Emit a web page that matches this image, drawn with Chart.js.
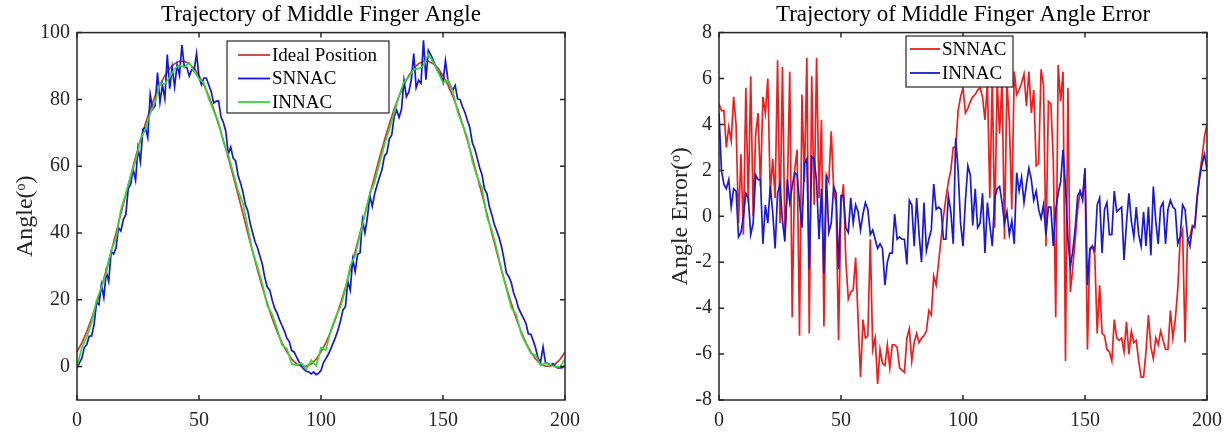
<!DOCTYPE html>
<html>
<head>
<meta charset="utf-8">
<title>Trajectory of Middle Finger Angle</title>
<script src="https://cdn.jsdelivr.net/npm/chart.js@4.4.1/dist/chart.umd.min.js"></script>
<style>
  html, body { margin: 0; padding: 0; background: #fff; }
  #wrap { position: relative; width: 1231px; height: 435px; }
  canvas { position: absolute; top: 0; }
  #angleChart { left: 0; }
  #errorChart { left: 615px; }
</style>
</head>
<body>
<div id="wrap">
  <canvas id="angleChart" width="615" height="435"></canvas>
  <canvas id="errorChart" width="616" height="435"></canvas>
</div>
<script>
// sample index (time step) 0..200 and every second step
const steps = Array.from({ length: 201 }, (_, i) => i);
const evenSteps = Array.from({ length: 101 }, (_, i) => i * 2);

// Left plot: angle trajectories (degrees)
const idealAngle = [ // every 2nd step
  4.4, 7.1, 10.5, 14.4, 18.9, 23.7, 28.9, 34.4, 40.0, 45.8,
  51.5, 57.1, 62.6, 67.8, 72.6, 77.1, 81.0, 84.4, 87.1, 89.3,
  90.7, 91.4, 91.4, 90.7, 89.3, 87.1, 84.4, 81.0, 77.1, 72.6,
  67.8, 62.6, 57.1, 51.5, 45.8, 40.0, 34.4, 28.9, 23.7, 18.9,
  14.4, 10.5, 7.1, 4.4, 2.2, 0.8, 0.1, 0.1, 0.8, 2.2,
  4.4, 7.1, 10.5, 14.4, 18.9, 23.7, 28.9, 34.4, 40.0, 45.8,
  51.5, 57.1, 62.6, 67.8, 72.6, 77.1, 81.0, 84.4, 87.1, 89.3,
  90.7, 91.4, 91.4, 90.7, 89.3, 87.1, 84.4, 81.0, 77.1, 72.6,
  67.8, 62.6, 57.1, 51.5, 45.8, 40.0, 34.4, 28.9, 23.7, 18.9,
  14.4, 10.5, 7.1, 4.4, 2.2, 0.8, 0.1, 0.1, 0.8, 2.2,
  4.4
];
const snnacAngle = [ // every step
  -0.5, 1.1, 2.5, 5.7, 6.6, 9.1, 9.2, 12.6, 19.2, 18.5,
  24.5, 20.7, 28.3, 25.5, 34.4, 33.7, 35.5, 41.6, 40.6, 44.1,
  45.5, 53.3, 54.6, 59.1, 55.8, 65.5, 61.3, 71.1, 71.6, 68.6,
  81.5, 77.1, 78.1, 88.0, 79.1, 84.3, 80.2, 93.4, 83.2, 89.6,
  83.8, 90.3, 87.2, 96.3, 89.6, 89.6, 87.0, 88.9, 88.8, 93.7,
  86.6, 84.4, 86.4, 86.4, 84.3, 82.3, 78.9, 79.4, 79.6, 74.8,
  73.1, 70.4, 63.6, 65.7, 62.4, 61.6, 57.3, 55.0, 52.3, 48.5,
  46.6, 42.8, 40.0, 37.3, 35.5, 33.0, 30.5, 26.5, 23.8, 22.9,
  19.9, 17.5, 16.0, 14.0, 12.3, 10.7, 8.5, 7.5, 4.8, 4.4,
  2.8, 1.4, 0.1, -0.8, -1.4, -1.6, -2.2, -1.6, -2.4, -2.0,
  -1.2, 1.2, 2.4, 3.7, 5.3, 7.1, 8.9, 11.0, 13.7, 17.0,
  17.9, 25.5, 22.9, 32.1, 28.5, 33.6, 34.0, 43.9, 40.0, 44.5,
  51.2, 48.0, 51.8, 54.4, 56.8, 59.0, 63.0, 64.0, 68.1, 69.4,
  74.9, 76.8, 74.6, 77.1, 85.7, 80.8, 82.2, 85.8, 93.7, 83.5,
  85.7, 84.8, 97.7, 85.9, 94.7, 93.3, 91.7, 89.8, 88.2, 87.5,
  85.1, 91.6, 85.9, 84.1, 82.7, 84.2, 80.1, 80.0, 77.8, 76.1,
  73.7, 71.5, 67.1, 65.2, 62.5, 59.6, 57.4, 53.2, 51.8, 47.9,
  45.5, 42.6, 40.7, 38.6, 35.9, 32.2, 28.0, 26.9, 25.1, 21.9,
  20.0, 17.4, 15.9, 14.5, 12.9, 9.8, 9.7, 7.7, 5.4, 2.4,
  1.4, 5.9, 1.1, 0.9, 0.5, 0.9, 0.0, -0.4, -0.4, -0.3,
  0.4
];
const innacAngle = [ // every 2nd step
  -0.1, 5.7, 8.9, 13.2, 19.8, 23.7, 28.1, 34.7, 38.4, 47.0,
  51.8, 56.9, 61.6, 68.0, 71.0, 75.8, 79.2, 84.9, 84.6, 86.7,
  89.2, 90.2, 89.6, 91.0, 88.3, 86.2, 84.9, 80.2, 76.6, 73.2,
  67.2, 63.4, 58.1, 52.7, 48.8, 41.6, 34.3, 29.8, 24.7, 18.2,
  15.7, 11.3, 6.5, 5.4, 0.8, 0.4, 1.1, -0.8, 2.0, 0.2,
  5.7, 4.9, 10.9, 14.9, 17.9, 23.1, 30.2, 33.2, 39.4, 45.6,
  51.7, 55.2, 60.9, 66.4, 71.0, 76.0, 81.1, 85.2, 86.7, 89.0,
  89.2, 90.1, 93.6, 91.2, 88.2, 85.0, 85.8, 82.5, 76.3, 72.3,
  68.6, 61.5, 56.8, 53.4, 44.8, 40.9, 35.2, 28.7, 23.3, 17.6,
  15.6, 9.9, 6.8, 4.0, 3.4, 0.3, 1.0, 0.6, -0.1, -0.1,
  2.4
];

// Right plot: angle errors (degrees), every step
const snnacError = [
  4.9, 4.6, 4.6, 3.0, 3.9, 3.3, 5.2, 4.0, -0.3, 2.7,
  -0.8, 5.6, 0.6, 6.1, 0.0, 3.5, 4.5, 1.3, 5.2, 4.5,
  6.0, 1.0, 2.5, 0.8, 6.8, -0.3, 6.5, -0.8, 1.0, 6.3,
  -4.4, 2.0, 2.9, -5.2, 5.3, 1.5, 6.9, -5.1, 6.1, 0.5,
  6.9, 0.8, 4.2, -4.8, 1.8, 1.5, 3.7, 1.2, 0.5, -5.4,
  0.5, 1.4, -2.0, -3.6, -3.3, -3.2, -1.8, -4.5, -7.0, -4.5,
  -5.3, -5.2, -1.0, -5.8, -5.3, -7.3, -5.8, -6.4, -6.5, -5.6,
  -6.6, -5.6, -5.6, -5.7, -6.6, -6.7, -6.8, -5.3, -4.9, -6.3,
  -5.5, -5.1, -5.5, -5.3, -5.2, -5.0, -4.1, -4.3, -2.6, -3.0,
  -2.0, -1.0, 0.0, 0.8, 1.5, 2.0, 3.0, 3.0, 4.6, 5.2,
  5.6, 4.5, 4.7, 5.0, 5.2, 5.3, 5.5, 5.6, 5.2, 4.2,
  5.8, 0.8, 6.0, -0.5, 5.9, 3.6, 6.0, -1.0, 5.8, 4.1,
  0.3, 6.3, 5.3, 5.5, 5.8, 6.2, 4.8, 6.3, 4.5, 5.5,
  2.2, 2.3, 6.4, 5.7, -1.3, 5.0, 4.9, 2.5, -4.4, 6.6,
  5.0, 6.3, -6.3, 5.6, -3.3, -2.2, -1.0, 0.3, 1.1, 0.8,
  2.0, -5.8, -1.5, -1.3, -1.7, -5.1, -3.0, -5.1, -5.2, -5.8,
  -5.9, -6.3, -4.5, -5.3, -5.4, -5.3, -5.9, -4.6, -6.0, -5.0,
  -5.5, -5.4, -6.3, -7.0, -7.0, -5.9, -4.3, -5.7, -6.2, -5.3,
  -5.6, -5.0, -5.4, -5.8, -5.8, -4.1, -5.3, -4.5, -3.2, -1.0,
  -0.6, -5.5, -1.0, -0.9, -0.4, -0.5, 0.8, 1.8, 2.6, 3.5,
  4.0
];
const innacError = [
  4.5, 2.0, 1.4, 1.2, 1.6, 0.4, 1.2, 1.1, -0.9, -0.7,
  0.0, 1.0, 0.8, -0.8, -0.3, 1.8, 1.6, 1.6, -1.2, 0.5,
  -0.3, 1.3, 0.2, -1.4, 1.0, 1.4, -0.2, -1.1, 1.6, 0.6,
  1.3, 1.9, 1.8, 0.6, -0.5, 2.3, 2.5, -2.3, 2.6, 2.5,
  1.5, -1.0, 1.2, -2.5, 1.8, -0.7, -0.3, 1.3, 1.0, -2.3,
  0.9, 0.9, -0.5, -0.7, 0.8, -0.3, 0.5, 0.2, -0.6, 0.1,
  0.6, 0.3, -0.8, -0.6, -1.0, -1.4, -1.2, -1.4, -3.0, -2.0,
  -1.6, -1.6, 0.1, -1.0, -0.9, -1.0, -1.0, -2.1, 0.7, 0.5,
  -1.3, 0.8, -0.8, -2.0, 0.6, -1.5, -1.0, -0.6, 1.4, 0.3,
  0.4, 0.3, -1.0, -1.0, 0.9, 0.2, -1.2, 3.4, 2.0, -0.3,
  -1.3, 0.7, 2.2, 1.8, -0.4, 1.2, -0.5, -0.3, 1.0, -1.6,
  0.6, -0.4, -1.3, 0.8, 1.2, 1.3, 0.6, -0.3, 0.2, -0.8,
  -0.2, -1.2, 1.9, 1.1, 1.7, 0.6, 1.4, 2.1, 1.6, 0.7,
  1.1, 0.3, -0.1, 0.5, -0.8, 0.4, 0.4, -1.3, 0.3, 1.0,
  1.5, 2.9, 1.3, -1.0, -2.2, -1.5, -0.5, 0.9, 1.1, 0.7,
  2.1, -3.0, -1.4, -1.3, -1.5, 0.5, 0.8, -1.6, 0.3, 0.6,
  -0.8, -0.8, 1.1, 0.2, 0.3, 0.4, -1.9, -0.3, 1.0, -0.2,
  -0.9, 0.4, -0.8, -1.3, 0.2, -1.3, 0.4, -1.7, 1.3, -0.2,
  -1.2, 0.4, 0.6, -1.2, 0.3, 0.7, 0.4, 0.3, -1.2, -0.9,
  0.5, 0.3, -0.9, -1.3, -0.5, -0.4, 0.9, 1.7, 2.3, 2.7,
  2.0
];

const xTicks = [0, 50, 100, 150, 200];

const FONT = "'Liberation Serif', 'Times New Roman', serif";
const INK = "#262626";
Chart.defaults.font.family = FONT;
Chart.defaults.color = INK;

const toPoints = (xs, ys) => ys.map((v, i) => ({ x: xs[i], y: v }));

// MATLAB-style box: full frame plus inward tick marks on all four sides
const matlabBox = {
  id: "matlabBox",
  afterDatasetsDraw(chart) {
    const { ctx, chartArea: a, scales } = chart;
    const len = 5;
    ctx.save();
    ctx.strokeStyle = INK;
    ctx.lineWidth = 1.5;
    ctx.beginPath();
    scales.x.ticks.forEach((t) => {
      const px = scales.x.getPixelForValue(t.value);
      ctx.moveTo(px, a.bottom);
      ctx.lineTo(px, a.bottom - len);
      ctx.moveTo(px, a.top);
      ctx.lineTo(px, a.top + len);
    });
    scales.y.ticks.forEach((t) => {
      const py = scales.y.getPixelForValue(t.value);
      ctx.moveTo(a.left, py);
      ctx.lineTo(a.left + len, py);
      ctx.moveTo(a.right, py);
      ctx.lineTo(a.right - len, py);
    });
    ctx.stroke();
    ctx.strokeRect(a.left, a.top, a.right - a.left, a.bottom - a.top);
    ctx.restore();
  },
};

// legend box drawn inside the plot area, like MATLAB's "north" legend
const boxLegend = {
  id: "boxLegend",
  afterDraw(chart, args, opts) {
    const { ctx } = chart;
    ctx.save();
    ctx.fillStyle = "#fff";
    ctx.fillRect(opts.x, opts.y, opts.w, opts.h);
    ctx.strokeStyle = INK;
    ctx.lineWidth = 1.2;
    ctx.strokeRect(opts.x, opts.y, opts.w, opts.h);
    ctx.font = opts.fontSize + "px " + FONT;
    ctx.textBaseline = "middle";
    ctx.textAlign = "left";
    chart.data.datasets.forEach((ds, i) => {
      const cy = opts.y + opts.firstRow + i * opts.rowHeight;
      ctx.strokeStyle = ds.borderColor;
      ctx.lineWidth = 1.8;
      ctx.beginPath();
      ctx.moveTo(opts.x + opts.lineStart, cy);
      ctx.lineTo(opts.x + opts.lineEnd, cy);
      ctx.stroke();
      ctx.fillStyle = "#000";
      ctx.fillText(ds.label, opts.x + opts.textStart, cy + 1);
    });
    ctx.restore();
  },
};

function baseOptions(cfg) {
  return {
    responsive: false,
    animation: false,
    events: [],
    layout: { padding: { left: 0, right: cfg.padRight, top: 0, bottom: 0 } },
    elements: { point: { radius: 0 }, line: { borderWidth: 1.7, tension: 0 } },
    plugins: {
      legend: { display: false },
      tooltip: { enabled: false },
      title: {
        display: true,
        fullSize: false,
        text: cfg.title,
        color: "#000",
        font: { size: 23, weight: "normal" },
        padding: { top: 1, bottom: 4 },
      },
      boxLegend: cfg.legend,
    },
    scales: {
      x: {
        type: "linear",
        min: 0,
        max: 200,
        afterBuildTicks: (scale) => {
          scale.ticks = xTicks.map((v) => ({ value: v }));
        },
        afterFit: (scale) => {
          scale.height = 35;
        },
        grid: { display: false, drawTicks: false },
        border: { display: false },
        ticks: { font: { size: 20 }, color: INK, padding: 9, maxRotation: 0 },
      },
      y: {
        min: cfg.yMin,
        max: cfg.yMax,
        afterFit: (scale) => {
          scale.width = cfg.yWidth;
        },
        grid: { display: false, drawTicks: false },
        border: { display: false },
        ticks: {
          stepSize: cfg.yStep,
          includeBounds: false,
          font: { size: 20 },
          color: INK,
          padding: 7,
        },
        title: {
          display: true,
          text: cfg.yTitle,
          color: INK,
          font: { size: 24 },
          padding: { top: cfg.yTitlePad, bottom: 0 },
        },
      },
    },
  };
}

new Chart(document.getElementById("angleChart"), {
  type: "line",
  data: {
    datasets: [
      {
        label: "Ideal Position",
        data: toPoints(evenSteps, idealAngle),
        borderColor: "#c83c32",
        order: 3,
      },
      {
        label: "SNNAC",
        data: toPoints(steps, snnacAngle),
        borderColor: "#1616d4",
        order: 2,
      },
      {
        label: "INNAC",
        data: toPoints(evenSteps, innacAngle),
        borderColor: "#36d836",
        order: 1,
      },
    ],
  },
  options: baseOptions({
    title: "Trajectory of Middle Finger Angle",
    padRight: 50,
    yMin: -10,
    yMax: 100,
    yStep: 20,
    yWidth: 77,
    yTitle: "Angle(\u1d52)",
    yTitlePad: 11,
    legend: {
      x: 227, y: 41, w: 162, h: 72,
      firstRow: 14, rowHeight: 23.5,
      lineStart: 11, lineEnd: 43, textStart: 45, fontSize: 19,
    },
  }),
  plugins: [matlabBox, boxLegend],
});

new Chart(document.getElementById("errorChart"), {
  type: "line",
  data: {
    datasets: [
      {
        label: "SNNAC",
        data: toPoints(steps, snnacError),
        borderColor: "#ee1e1e",
        order: 2,
      },
      {
        label: "INNAC",
        data: toPoints(steps, innacError),
        borderColor: "#1a1ad2",
        order: 1,
      },
    ],
  },
  options: baseOptions({
    title: "Trajectory of Middle Finger Angle Error",
    padRight: 24,
    yMin: -8,
    yMax: 8,
    yStep: 2,
    yWidth: 104,
    yTitle: "Angle Error(\u1d52)",
    yTitlePad: 51,
    legend: {
      x: 291, y: 36, w: 107, h: 51,
      firstRow: 13, rowHeight: 24,
      lineStart: 4, lineEnd: 34, textStart: 36, fontSize: 19,
    },
  }),
  plugins: [matlabBox, boxLegend],
});
</script>
</body>
</html>
